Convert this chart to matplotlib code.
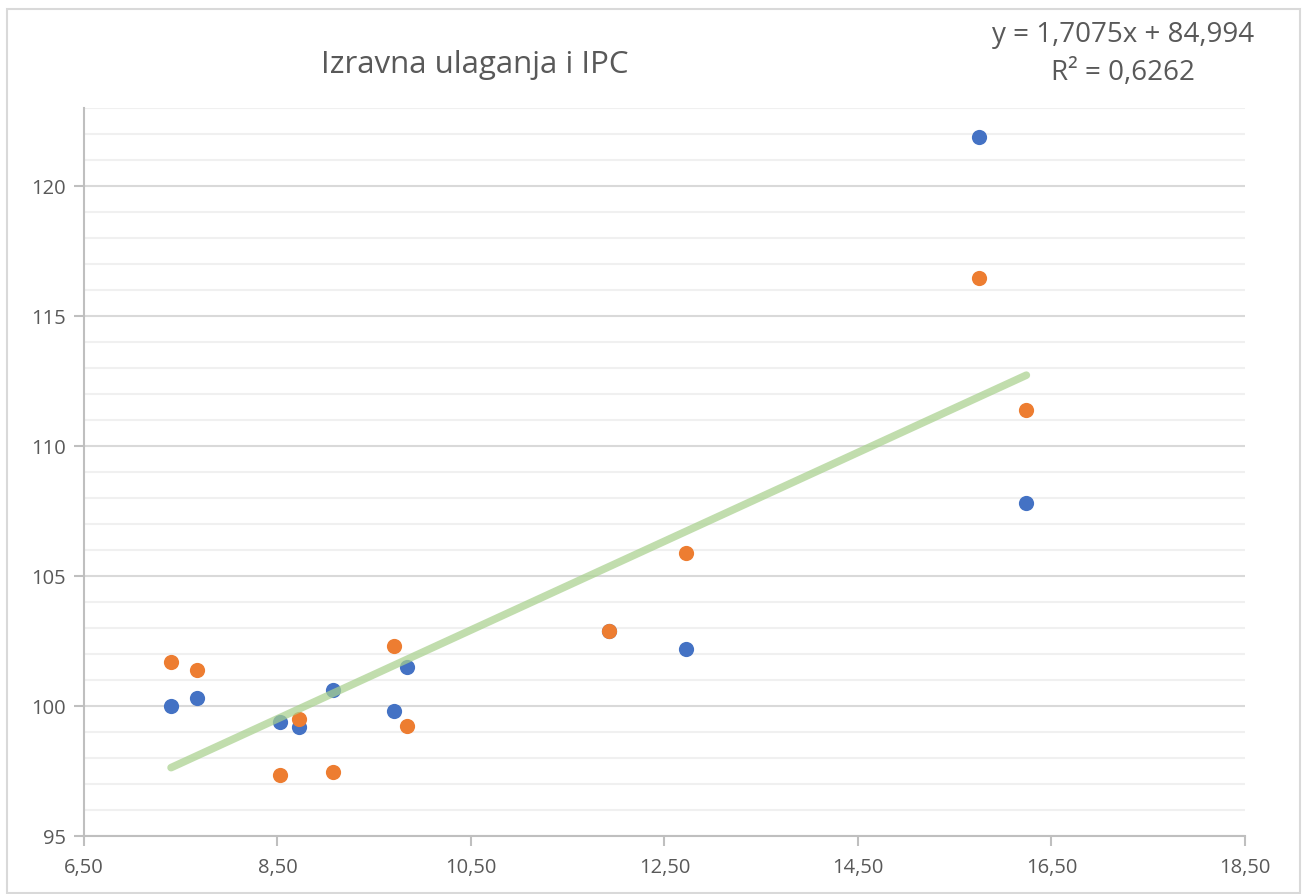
import matplotlib
matplotlib.use("Agg")
import matplotlib.pyplot as plt
from matplotlib.patches import Rectangle
from matplotlib.ticker import MultipleLocator, FuncFormatter
import numpy as np

# ---- data ----
x_vals = [7.40, 7.67, 8.53, 8.72, 9.07, 9.70, 9.84, 11.93, 12.72, 15.75, 16.24]
blue_vals = [100.0, 100.3, 99.4, 99.2, 100.6, 99.8, 101.5, 102.9, 102.2, 121.9, 107.8]
orange_vals = [101.7, 101.4, 97.35, 99.5, 97.45, 102.3, 99.25, 102.9, 105.9, 116.45, 111.4]
trend_slope = 1.7075
trend_intercept = 84.994
r_squared = 0.6262
title = "Izravna ulaganja i IPC"
x_ticks = [6.5, 8.5, 10.5, 12.5, 14.5, 16.5, 18.5]
y_ticks = [95, 100, 105, 110, 115, 120]

TXT = "#595959"
FONT = ["Open Sans", "DejaVu Sans"]
plt.rcParams['font.family'] = FONT

fig = plt.figure(figsize=(13.02, 8.94), dpi=100)
fig.patch.set_facecolor("white")
fig.add_artist(Rectangle((7/1302, 1/894), 1293/1302, 884/894, transform=fig.transFigure,
                         fill=False, edgecolor="#D9D9D9", linewidth=1.5))

ax = fig.add_axes([84/1302, 58/894, (1245-84)/1302, (836-108)/894])
ax.set_xlim(6.5, 18.5)
ax.set_ylim(95, 123)
ax.set_xticks(x_ticks)
ax.set_yticks(y_ticks)
ax.yaxis.set_minor_locator(MultipleLocator(1))
fmt = FuncFormatter(lambda v, p: f"{v:.2f}".replace(".", ","))
ax.xaxis.set_major_formatter(fmt)
ax.yaxis.set_major_formatter(FuncFormatter(lambda v, p: f"{v:.0f}"))

ax.grid(True, which="minor", axis="y", color="#F0F0F0", linewidth=1.5, zorder=0)
ax.grid(True, which="major", axis="y", color="#D9D9D9", linewidth=1.5, zorder=0)
ax.set_axisbelow(True)
for s in ["top", "right"]:
    ax.spines[s].set_visible(False)
for s in ["left", "bottom"]:
    ax.spines[s].set_color("#BFBFBF")
    ax.spines[s].set_linewidth(1.5)
ax.tick_params(axis="both", which="major", length=7, width=1.5, color="#BFBFBF",
               labelcolor=TXT, labelsize=14.5)
ax.tick_params(axis="y", which="minor", length=0)
ax.tick_params(axis="x", pad=9)
ax.tick_params(axis="y", pad=6)

ax.scatter(x_vals, blue_vals, s=120, color="#4472C4", zorder=3, linewidths=0)
ax.scatter(x_vals, orange_vals, s=120, color="#ED7D31", zorder=3, linewidths=0)

xt = np.array([min(x_vals), max(x_vals)])
ax.plot(xt, trend_slope * xt + trend_intercept, color="#A9D18E", linewidth=5.5,
        alpha=0.72, solid_capstyle="round", zorder=4)

fig.text(475/1302, 1 - 65/894, title, ha="center", va="center", fontsize=22.5, color=TXT)
eq = f"y = {trend_slope:.4f}x + {trend_intercept:.3f}".replace(".", ",")
r2 = f"R² = {r_squared:.4f}".replace(".", ",")
fig.text(1123/1302, 1 - 35/894, eq, ha="center", va="center", fontsize=20, color=TXT)
fig.text(1123/1302, 1 - 73/894, r2, ha="center", va="center", fontsize=20, color=TXT)

fig.savefig("out.png", dpi=100, facecolor="white")
